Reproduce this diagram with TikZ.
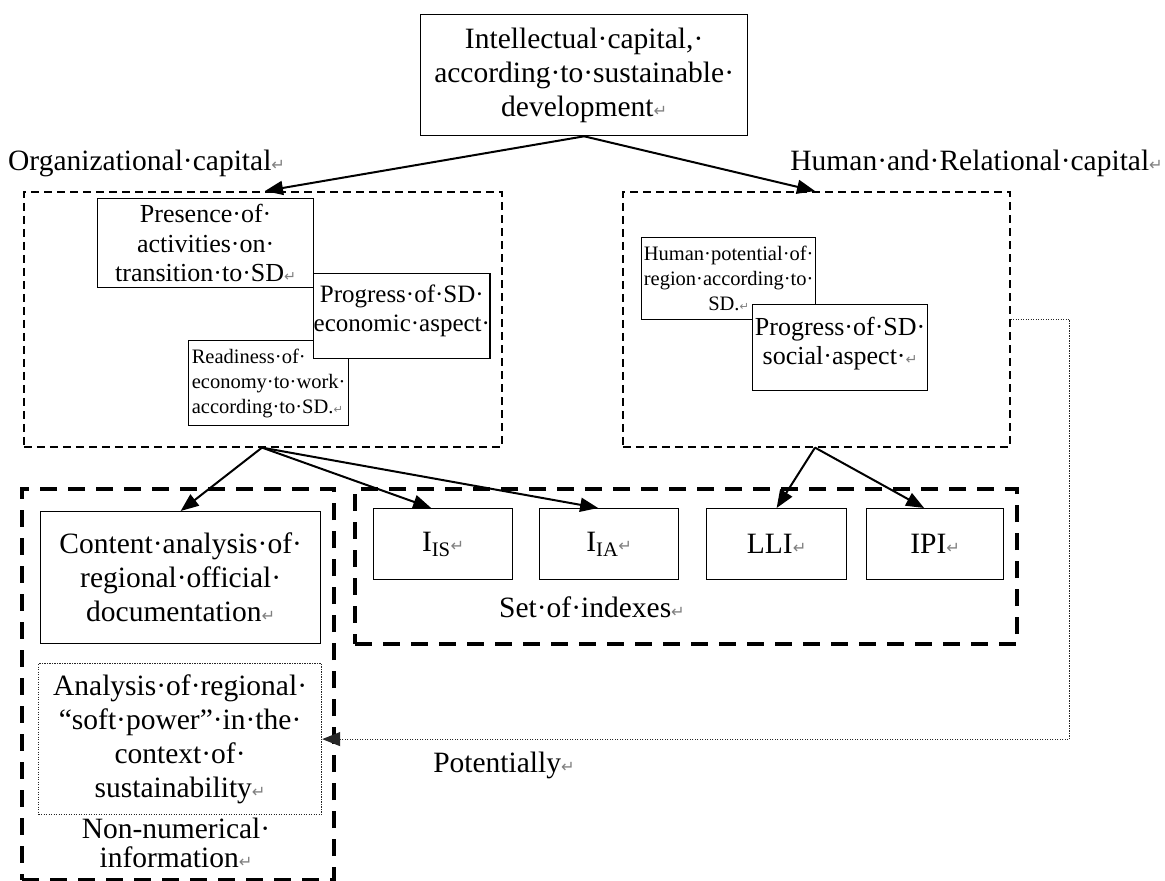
\documentclass[tikz,border=0pt]{standalone}
\usepackage{fontspec}
\setmainfont{Liberation Serif}
\newfontfamily\markfnt{DejaVu Sans}[Scale=0.55]
\usetikzlibrary{arrows.meta,calc}

% paragraph mark as shown in the word-processor view
\newcommand\pmk{{\markfnt\textcolor{black!50}{↵}}}

\tikzset{
  box/.style={draw=black, line width=1.3pt, fill=white, inner sep=0pt,
              align=center, anchor=north west},
  fbig/.style={font=\fontsize{29.5}{34}\selectfont},
  fmid/.style={font=\fontsize{26}{29.5}\selectfont},
  fnarrow/.style={font=\fontsize{25}{29}\selectfont},
  fsmall/.style={font=\fontsize{20.5}{25}\selectfont},
  thindash/.style={draw=black, line width=1.6pt, dash pattern=on 8pt off 5pt,
                   inner sep=0pt, anchor=north west},
  thickdash/.style={draw=black, line width=4pt, dash pattern=on 17pt off 11pt,
                    inner sep=0pt, anchor=north west},
  dotline/.style={line width=1.2pt, dash pattern=on 1.2pt off 1.3pt},
  link/.style={line width=2pt, -{Triangle[length=18pt,width=14pt]}},
}

\begin{document}
\begin{tikzpicture}[x=1pt, y=-1pt]
\fill[white] (0,0) rectangle (1165,881);
\useasboundingbox (0,0) rectangle (1165,881);

% top concept
\node[box, fbig, minimum width=327pt, minimum height=121pt] (top) at (420,14)
  {Intellectual·capital,·\\according·to·sustainable·\\development\pmk};

% group captions
\node[fbig, anchor=west, inner sep=0pt] (orglab) at (8,163) {Organizational·capital\pmk};
\node[fbig, anchor=east, inner sep=0pt] (hrlab) at (1163,163) {Human·and·Relational·capital\pmk};

% capital groups
\node[thindash, minimum width=478pt, minimum height=255pt] (orgbox) at (23,191) {};
\node[thindash, minimum width=387pt, minimum height=255pt] (hrbox) at (622,191) {};

\node[box, fmid, minimum width=216pt, minimum height=89pt] (presence) at (97,198)
  {Presence·of·\\activities·on·\\transition·to·SD\pmk};
\node[box, fsmall, align=left, minimum width=160pt, minimum height=85pt] (ready) at (188,340)
  {Readiness·of·\\economy·to·work·\\according·to·SD.\pmk};
\node[box, fnarrow, minimum width=175pt, minimum height=85pt] (econ) at (313,273)
  {Progress·of·SD·\\economic·aspect·\rule[-16pt]{0pt}{0pt}};

\node[box, fsmall, minimum width=174pt, minimum height=82pt] (humpot) at (641,237)
  {Human·potential·of·\\region·according·to·\\SD.\pmk};
\node[box, fmid, minimum width=175pt, minimum height=86pt] (social) at (752,304)
  {Progress·of·SD·\\social·aspect·\pmk\rule[-14pt]{0pt}{0pt}};

% lower groups
\node[thickdash, minimum width=312pt, minimum height=391pt] (nonnum) at (20,487) {};
\node[thickdash, minimum width=662pt, minimum height=155pt] (setbox) at (353,487) {};

\node[box, fbig, minimum width=280pt, minimum height=132pt] (content) at (40,511)
  {Content·analysis·of·\\regional·official·\\documentation\pmk};
\node[box, fbig, minimum width=139pt, minimum height=71pt] (iis) at (373,508) {I\textsubscript{IS}\pmk};
\node[box, fbig, minimum width=139pt, minimum height=71pt] (iia) at (539,508) {I\textsubscript{IA}\pmk};
\node[box, fbig, minimum width=140pt, minimum height=71pt] (lli) at (706,508) {LLI\pmk};
\node[box, fbig, minimum width=137pt, minimum height=71pt] (ipi) at (866,508) {IPI\pmk};

\node[box, fbig, draw=black!85, dotline, minimum width=283pt, minimum height=151pt] (soft) at (38,663)
  {Analysis·of·regional·\\“soft·power”·in·the·\\context·of·\\sustainability\pmk};

\node[fbig, align=center, inner sep=0pt] (setlab) at (592,607) {Set·of·indexes\pmk};
\node[font=\fontsize{29.5}{29}\selectfont, align=center, inner sep=0pt] (nonlab) at (176,843)
  {Non-numerical·\\information\pmk};
\node[fbig, inner sep=0pt] (potlab) at (504,765) {Potentially\pmk};

% connector anchor points on the group frames
\coordinate (orgtip) at ([xshift=242pt]orgbox.north west);
\coordinate (hrtip) at ([xshift=193pt]hrbox.north west);
\coordinate (orgbase) at ([xshift=239pt]orgbox.south west);
\coordinate (hrbase) at ([xshift=193pt]hrbox.south west);

% connectors
\draw[link] (top.south) -- (orgtip);
\draw[link] (top.south) -- (hrtip);
\draw[link] (orgbase) -- (content.north);
\draw[link] (orgbase) -- ([xshift=-12pt]iis.north);
\draw[link] (orgbase) -- ([xshift=-11pt]iia.north);
\draw[link] (hrbase) -- (lli.north);
\draw[link] (hrbase) -- ([xshift=-11pt]ipi.north);
\draw[dotline, draw=black!85, -{Triangle[length=18pt,width=14pt]}]
  (hrbox.east) -- ++(59,0) |- (soft.east);
\end{tikzpicture}
\end{document}
